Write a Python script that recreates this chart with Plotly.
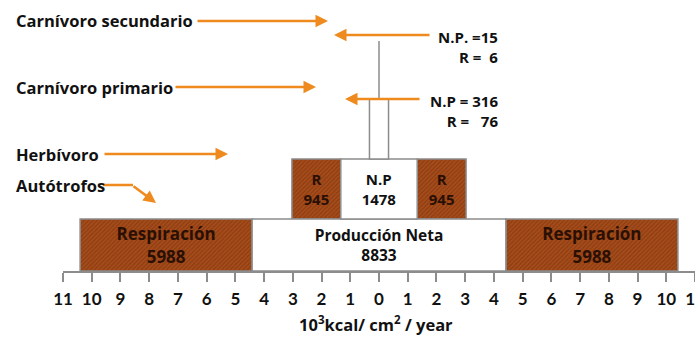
import plotly.graph_objects as go

# ---------------- data ----------------
levels = ["Autótrofos", "Herbívoro", "Carnívoro primario", "Carnívoro secundario"]
net_production = [8833, 1478, 316, 15]      # kcal/m2/year (N.P)
respiration = [5988, 945, 76, 6]            # kcal/m2/year (R)
# the drawing is not to scale above the producers: display factor per level
display_scale = [1.0, 1.8, 2.1, 1.0]
tick_values = list(range(-11, 12))
tick_labels = [str(abs(v)) for v in tick_values]

ORANGE = "#EE8A1E"
GREY = "#8c8c8c"
BROWN_BG = "#A64C1A"
BROWN_FG = "#6A2A0C"
FONT = "Open Sans"
NARROW = "Liberation Sans Narrow, Lato, sans-serif"

W, H = 695, 338
ML, MR, MT, MB = 63, 0, 0, 67
PW, PH = W - ML - MR, H - MT - MB


def px(x):
    return (x - ML) / PW


def py(y):
    return (H - MB - y) / PH


# level bands (vertical extent in y-axis units, 0 = axis line)
band_lo = [0, 52, 112, 172]
band_hi = [52, 112, 172, 230]

# ---------------- bars ----------------
r_y, r_base, r_len, r_w, r_text, r_size = [], [], [], [], [], []
n_y, n_base, n_len, n_w, n_text, n_size = [], [], [], [], [], []

for i in range(3):
    s = display_scale[i] / 1000.0
    npw = net_production[i] * s
    rw = respiration[i] * s
    yc = (band_lo[i] + band_hi[i]) / 2
    th = band_hi[i] - band_lo[i]
    if i == 0:
        n_txt = f"Producción Neta<br>{net_production[i]}"
        r_txt = f"Respiración<br>{respiration[i]}"
        nfs, rfs = 15.5, 17
    elif i == 1:
        n_txt = f"N.P<br>{net_production[i]}"
        r_txt = f"R<br>{respiration[i]}"
        nfs, rfs = 15, 15
    else:
        n_txt = ""
        r_txt = None
        nfs, rfs = 12, 12
    n_y.append(yc); n_base.append(-npw / 2); n_len.append(npw); n_w.append(th)
    n_text.append(n_txt); n_size.append(nfs)
    if r_txt is not None:
        for side in (-1, 1):
            r_y.append(yc)
            r_base.append(-npw / 2 - rw if side < 0 else npw / 2)
            r_len.append(rw)
            r_w.append(th)
            r_text.append(r_txt)
            r_size.append(rfs)

fig = go.Figure()
fig.add_trace(go.Bar(
    orientation="h", y=r_y, x=r_len, base=r_base, width=r_w,
    text=r_text, textposition="inside", insidetextanchor="middle",
    textangle=0, constraintext="none",
    textfont=dict(family=FONT, size=r_size, color="#2a1004", weight="bold"),
    marker=dict(color=BROWN_BG, line=dict(color=GREY, width=1.5),
                pattern=dict(shape="/", fgcolor=BROWN_FG, bgcolor=BROWN_BG,
                             size=3, solidity=0.35, fillmode="overlay")),
    hoverinfo="skip", showlegend=False,
))
fig.add_trace(go.Bar(
    orientation="h", y=n_y, x=n_len, base=n_base, width=n_w,
    text=n_text, textposition="inside", insidetextanchor="middle",
    textangle=0, constraintext="none",
    textfont=dict(family=FONT, size=n_size, color="#111111", weight="bold"),
    marker=dict(color="white", line=dict(color=GREY, width=1.5)),
    hoverinfo="skip", showlegend=False,
))
# secondary carnivores: a single line
fig.add_trace(go.Scatter(
    x=[0, 0], y=[band_lo[3], band_hi[3]], mode="lines",
    line=dict(color=GREY, width=1.5), hoverinfo="skip", showlegend=False,
))

# ---------------- annotations ----------------
ann = []
label_pos = {  # label text y (px), arrow start, arrow end x (px)
    "Carnívoro secundario": (21, 196, 328),
    "Carnívoro primario": (87, 174, 316),
    "Herbívoro": (154, 103, 228),
    "Autótrofos": (185, 103, 132),
}
for name, (yy, x0, x1) in label_pos.items():
    ann.append(dict(x=px(14), y=py(yy), xref="paper", yref="paper", text=name,
                    showarrow=False, xanchor="left", yanchor="middle",
                    font=dict(family=FONT, size=16.5, color="#111", weight="bold")))
    if name != "Autótrofos":
        ann.append(dict(x=px(x1), y=py(yy), xref="paper", yref="paper", text="",
                        showarrow=True, ax=x0 - x1, ay=0, arrowhead=2, arrowsize=1,
                        arrowwidth=2.5, arrowcolor=ORANGE, standoff=0))
# bent arrow for autotrophs
ann.append(dict(x=px(156), y=py(203), xref="paper", yref="paper", text="",
                showarrow=True, ax=132 - 156, ay=185 - 203, arrowhead=2, arrowsize=1,
                arrowwidth=2.5, arrowcolor=ORANGE, standoff=0))

# right side labels
right = [
    (f"N.P. ={net_production[3]}", f"R =\u00a0\u00a0{respiration[3]}", 35, 431, 334),
    (f"N.P = {net_production[2]}", f"R =\u00a0\u00a0\u00a0{respiration[2]}", 99, 421, 345),
]
for t1, t2, y1, x0, x1 in right:
    ann.append(dict(x=px(500), y=py(y1 - 10), xref="paper", yref="paper",
                    text=f"{t1}<br>{t2}", align="right",
                    showarrow=False, xanchor="right", yanchor="top",
                    font=dict(family=FONT, size=15, color="#111", weight="bold")))
    ann.append(dict(x=px(x1), y=py(y1), xref="paper", yref="paper", text="",
                    showarrow=True, ax=x0 - x1, ay=0, arrowhead=2, arrowsize=1,
                    arrowwidth=2.5, arrowcolor=ORANGE, standoff=0))

# axis title
ann.append(dict(x=px(376), y=py(324), xref="paper", yref="paper",
                text="10<sup>3</sup>kcal/ cm<sup>2</sup> / year", showarrow=False,
                xanchor="center", yanchor="middle",
                font=dict(family=FONT, size=16.5, color="#111", weight="bold")))

shapes = [dict(type="line", xref="paper", yref="paper",
               x0=px(103), y0=py(185), x1=px(133), y1=py(185),
               line=dict(color=ORANGE, width=2.5))]

fig.update_layout(
    width=W, height=H, margin=dict(l=ML, r=MR, t=MT, b=MB, autoexpand=False),
    paper_bgcolor="white", plot_bgcolor="white", barmode="overlay",
    annotations=ann, shapes=shapes,
    xaxis=dict(range=[-11, 11], tickvals=tick_values, ticktext=tick_labels,
               showline=True, linecolor=GREY, linewidth=2, ticks="outside",
               ticklen=9, tickwidth=1.5, tickcolor=GREY, showgrid=False,
               zeroline=False, ticklabeloverflow="allow", ticklabelstandoff=3,
               automargin=False,
               tickfont=dict(family=NARROW, size=17, color="#111", weight="bold"),
               fixedrange=True),
    yaxis=dict(range=[0, PH], visible=False, fixedrange=True, automargin=False),
)

fig.write_html("out.html", config={"displayModeBar": False},
               post_script="document.body.style.margin='0';document.body.style.overflow='hidden';")
